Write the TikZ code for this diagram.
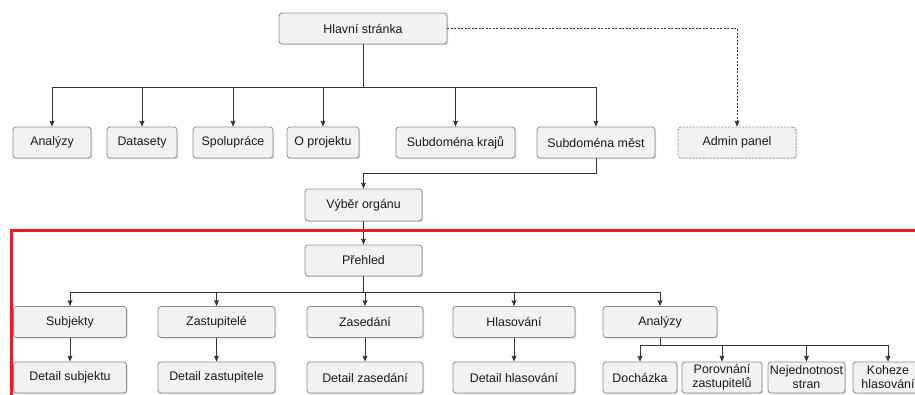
\documentclass[tikz,border=0pt]{standalone}
\usepackage{fontspec}
\setmainfont{Liberation Sans}
\usepackage{tikz}
\usetikzlibrary{positioning,arrows.meta,shadows}
\usepackage{xcolor}

\definecolor{framered}{RGB}{235,28,36}

\tikzset{
  page/.style={draw=black!45, line width=0.8pt, fill=black!5, rounded corners=3pt, minimum height=31pt,
    inner sep=2pt, align=center, text=black!90,
    font=\fontsize{12.4}{14}\selectfont,
    drop shadow={shadow xshift=1.2pt, shadow yshift=-1.2pt, fill=black, opacity=0.15}},
  link/.style={draw=black!80, line width=0.9pt, -{Stealth[length=6pt,width=5pt,inset=1pt]}},
  bus/.style={draw=black!80, line width=0.9pt}
}

\begin{document}
\begin{tikzpicture}[x=1pt, y=-1pt]
                \useasboundingbox (0,0) rectangle (915,394);
                \node[page, minimum width=168](hs) at (363,28.5){Hlavní stránka};
                \node[page, minimum width=78](an) at (52,142.5){Analýzy};
                \node[page, minimum width=70](ds) at (142,142.5){Datasety};
                \node[page, minimum width=80](sp) at (233,142.5){Spolupráce};
                \node[page, minimum width=72](op) at (323,142.5){O projektu};
                \node[page, minimum width=119](sk) at (455.5,142.5){Subdoména krajů};
                \node[page, minimum width=118](sm) at (596,142.5){Subdoména měst};
                \node[page, dash pattern=on 2pt off 1.5pt, minimum width=118](ap) at (737,142.5){Admin panel};
                \node[page, minimum width=117, minimum height=32](vo) at (363.5,205){Výběr orgánu};
                \node[page, minimum width=117](pr) at (363.5,260.5){Přehled};
                \node[page, minimum width=113](su) at (70,322){Subjekty};
                \node[page, minimum width=117](zt) at (216.5,322){Zastupitelé};
                \node[page, minimum width=116](zs) at (365,322){Zasedání};
                \node[page, minimum width=122](hl) at (514,322){Hlasování};
                \node[page, minimum width=114](az) at (660,322){Analýzy};
                \node[page, minimum width=113](dsu) at (70,377.5){Detail subjektu};
                \node[page, minimum width=117](dzt) at (216.5,377.5){Detail zastupitele};
                \node[page, minimum width=116](dzs) at (365,377.5){Detail zasedání};
                \node[page, minimum width=122](dhl) at (514,377.5){Detail hlasování};
                \node[page, minimum width=74](doc) at (640,377.5){Docházka};
                \node[page, minimum width=80](por) at (722,377.5){Porovnání\\zastupitelů};
                \node[page, minimum width=77](nej) at (806.5,377.5){Nejednotnost\\stran};
                \node[page, minimum width=70](koh) at (888,377.5){Koheze\\hlasování};
                % top level
                \coordinate (b1) at (363,87);
                \path[bus] (hs.south) -- (b1);
                \foreach \m in {an,ds,sp,op,sk,sm}
                  \path[link] (b1) -| (\m.north);
                \path[link, dash pattern=on 2pt off 1.5pt] (hs.east) -| (ap.north);
                \path[link] (sm.south) |- ++(0,15) -| (vo.north);
                \path[link] (vo) -- (pr);
                % organ level
                \coordinate (b2) at (363.5,292);
                \path[bus] (pr.south) -- (b2);
                \foreach \m in {su,zt,zs,hl,az}
                  \path[link] (b2) -| (\m.north);
                \path[link] (su) -- (dsu);
                \path[link] (zt) -- (dzt);
                \path[link] (zs) -- (dzs);
                \path[link] (hl) -- (dhl);
                \coordinate (b3) at (660,345);
                \path[bus] (az.south) -- (b3);
                \foreach \m in {doc,por,nej,koh}
                  \path[link] (b3) -| (\m.north);
                % red frame
                \draw[framered, line width=3pt] (11,400) |- (920,230.5);
                \end{tikzpicture}
\end{document}
